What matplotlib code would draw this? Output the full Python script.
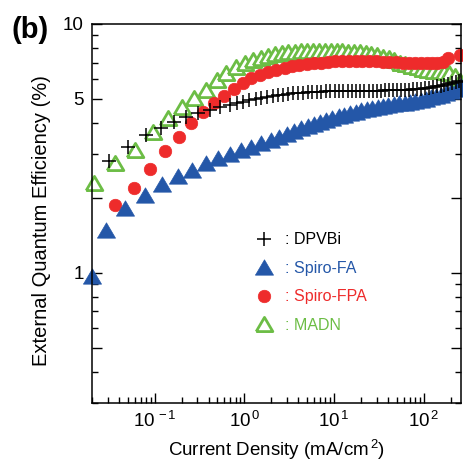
import numpy as np
import matplotlib
matplotlib.use("Agg")
import matplotlib.pyplot as plt
from matplotlib.ticker import FixedLocator, NullFormatter

plt.rcParams['font.family'] = ['Liberation Sans', 'DejaVu Sans']
plt.rcParams['mathtext.fontset'] = 'custom'
plt.rcParams['mathtext.rm'] = 'Liberation Sans'
plt.rcParams['mathtext.it'] = 'Liberation Sans:italic'
plt.rcParams['mathtext.bf'] = 'Liberation Sans:bold'

# DPVBi (+)
dpvbi_x = [0.031, 0.050, 0.079, 0.117, 0.164, 0.226, 0.304, 0.41, 0.53, 0.69,
           0.82, 0.97, 1.14, 1.33, 1.55, 1.8, 2.07, 2.38, 2.72, 3.1,
           3.5, 4.0, 4.5, 5.1, 5.7, 6.4, 7.2, 8.1, 9.1, 10.2,
           11.4, 12.7, 14.2, 15.8, 17.6, 19.6, 21.8, 24.2, 26.9, 29.9,
           33.2, 36.9, 41, 45.5, 50.5, 56, 62, 69, 76, 84,
           93, 103, 114, 126, 139, 154, 170, 188, 207, 228, 250]
dpvbi_y = [2.82, 3.21, 3.58, 3.81, 4.03, 4.24, 4.39, 4.5, 4.62, 4.72,
           4.8, 4.87, 4.93, 4.99, 5.04, 5.09, 5.13, 5.17, 5.2, 5.23,
           5.26, 5.28, 5.3, 5.32, 5.33, 5.34, 5.35, 5.36, 5.37, 5.37,
           5.38, 5.38, 5.38, 5.39, 5.39, 5.39, 5.39, 5.4, 5.4, 5.4,
           5.4, 5.41, 5.41, 5.42, 5.42, 5.43, 5.44, 5.45, 5.46, 5.48,
           5.5, 5.52, 5.55, 5.58, 5.61, 5.65, 5.69, 5.74, 5.8, 5.86, 5.92]

# Spiro-FA (filled blue triangles)
sfa_x = [0.020, 0.029, 0.047, 0.077, 0.12, 0.18, 0.26, 0.37, 0.51, 0.69,
         0.91, 1.17, 1.52, 1.97, 2.45, 3.0, 3.6, 4.3, 5.1, 6.0,
         7.0, 8.2, 9.6, 11.2, 13, 15, 17.4, 20, 23, 26.5,
         30.5, 35, 40, 46, 53, 61, 70, 80, 92, 105,
         120, 137, 156, 178, 203, 232, 262]
sfa_y = [0.97, 1.48, 1.82, 2.05, 2.27, 2.45, 2.59, 2.75, 2.88, 3.0,
         3.11, 3.21, 3.31, 3.42, 3.52, 3.62, 3.71, 3.8, 3.88, 3.96,
         4.04, 4.11, 4.18, 4.25, 4.31, 4.37, 4.43, 4.49, 4.54, 4.59,
         4.63, 4.67, 4.71, 4.75, 4.79, 4.83, 4.87, 4.91, 4.96, 5.01,
         5.07, 5.13, 5.2, 5.28, 5.38, 5.5, 5.62]

# Spiro-FPA (red circles)
sfpa_x = [0.0364, 0.0583, 0.0895, 0.129, 0.187, 0.257, 0.347, 0.46, 0.60, 0.77,
          0.97, 1.2, 1.49, 1.84, 2.28, 2.8, 3.4, 4.1, 5.0, 6.0,
          7.2, 8.6, 10.3, 12.3, 14.6, 17.4, 20.7, 24.6, 29.2, 34.7,
          41.2, 49, 58, 68, 80, 94, 108, 124, 139, 162, 188, 253]
sfpa_y = [1.87, 2.2, 2.62, 3.09, 3.52, 3.99, 4.41, 4.83, 5.13, 5.5,
          5.8, 6.05, 6.25, 6.42, 6.55, 6.66, 6.76, 6.84, 6.91, 6.96,
          7.0, 7.04, 7.07, 7.09, 7.1, 7.1, 7.1, 7.09, 7.08, 7.06,
          7.04, 7.02, 7.0, 6.98, 6.97, 6.96, 6.96, 6.97, 7.0, 7.05, 7.27, 7.48]

# MADN (open green triangles)
madn_x = [0.021, 0.0364, 0.061, 0.096, 0.139, 0.199, 0.275, 0.377, 0.49, 0.63,
          0.81, 1.01, 1.25, 1.52, 1.83, 2.2, 2.6, 3.1, 3.65, 4.3,
          5.0, 5.8, 6.8, 7.9, 9.2, 10.7, 12.4, 14.4, 16.7, 19.4,
          22.5, 26, 30, 35, 40.5, 47, 54, 62, 72, 83,
          96, 110, 127, 146, 168, 193, 222, 255]
madn_y = [2.3, 2.75, 3.11, 3.69, 4.18, 4.65, 5.03, 5.45, 5.95, 6.35,
          6.7, 6.95, 7.15, 7.3, 7.45, 7.55, 7.63, 7.7, 7.75, 7.78,
          7.8, 7.82, 7.82, 7.81, 7.8, 7.78, 7.76, 7.74, 7.71, 7.68,
          7.64, 7.58, 7.5, 7.4, 7.28, 7.14, 7.0, 6.9, 6.8, 6.7,
          6.6, 6.55, 6.5, 6.45, 6.4, 6.35, 6.2, 5.9]

labels = [': DPVBi', ': Spiro-FA', ': Spiro-FPA', ': MADN']
xtick_vals = [0.1, 1, 10, 100]
xtick_labels = [r'$10^{\,-1}$', r'$10^{\,0}$', r'$10^{\,1}$', r'$10^{\,2}$']
ytick_vals = [0.5, 1, 2, 5, 10]
ytick_labels = ['', '1', '', '5', '10']

blue = '#2457a8'
red = '#ee2b2b'
green = '#6cbd45'

tri = [(-1, -0.85), (1, -0.85), (0, 0.85), (-1, -0.85)]

fig = plt.figure(figsize=(4.63, 4.63), dpi=100)
ax = fig.add_axes([0.1987, 0.1302, 0.797, 0.818])
ax.set_xscale('log')
ax.set_yscale('log')

h4, = ax.plot(madn_x, madn_y, ls='none', marker=tri, ms=12, mfc='white',
              mec=green, mew=2.0, clip_on=False, label=labels[3])
h3, = ax.plot(sfpa_x, sfpa_y, ls='none', marker='o', ms=9, mfc=red,
              mec=red, mew=0.5, clip_on=False, label=labels[2])
h2, = ax.plot(sfa_x, sfa_y, ls='none', marker=tri, ms=13, mfc=blue,
              mec=blue, mew=0.5, clip_on=False, label=labels[1])
h1, = ax.plot(dpvbi_x, dpvbi_y, ls='none', marker='+', ms=10, color='black',
              mew=1.1, clip_on=False, label=labels[0])

ax.set_xlim(0.02, 260)
ax.set_ylim(0.3, 10)

ax.xaxis.set_major_locator(FixedLocator(xtick_vals))
ax.set_xticklabels(xtick_labels)
ax.xaxis.set_minor_locator(matplotlib.ticker.LogLocator(base=10, subs=np.arange(2, 10), numticks=20))
ax.xaxis.set_minor_formatter(NullFormatter())

ax.yaxis.set_major_locator(FixedLocator(ytick_vals))
ax.set_yticklabels(ytick_labels)
ax.yaxis.set_minor_locator(FixedLocator([0.3, 0.4, 0.6, 0.7, 0.8, 0.9, 3, 4, 6, 7, 8, 9]))
ax.yaxis.set_minor_formatter(NullFormatter())

ax.tick_params(which='both', direction='in', top=False, right=True, width=1.0)
ax.tick_params(which='major', length=7, labelsize=13.5)
ax.tick_params(axis='x', which='major', pad=6)
ax.tick_params(axis='y', which='major', pad=6)
ax.tick_params(which='minor', length=4)
for s in ax.spines.values():
    s.set_linewidth(1.1)

ax.set_xlabel(r'Current Density (mA/cm$^{\,2}$)', fontsize=13.5)
ax.set_ylabel('External Quantum Efficiency (%)', fontsize=14.5)
ax.xaxis.set_label_coords(0.5, -0.093)
ax.yaxis.set_label_coords(-0.112, 0.48)

leg = ax.legend(handles=[h1, h2, h3, h4], loc='upper left',
                bbox_to_anchor=(0.444, 0.45), frameon=False, numpoints=1,
                fontsize=11.5, handlelength=1.0, handletextpad=0.8,
                labelspacing=0.85, borderpad=0, borderaxespad=0,
                labelcolor=['black', blue, red, green])

fig.text(0.024, 0.935, '(b)', fontsize=21, fontweight='bold', va='center', ha='left')

fig.savefig('out.png', dpi=100)
